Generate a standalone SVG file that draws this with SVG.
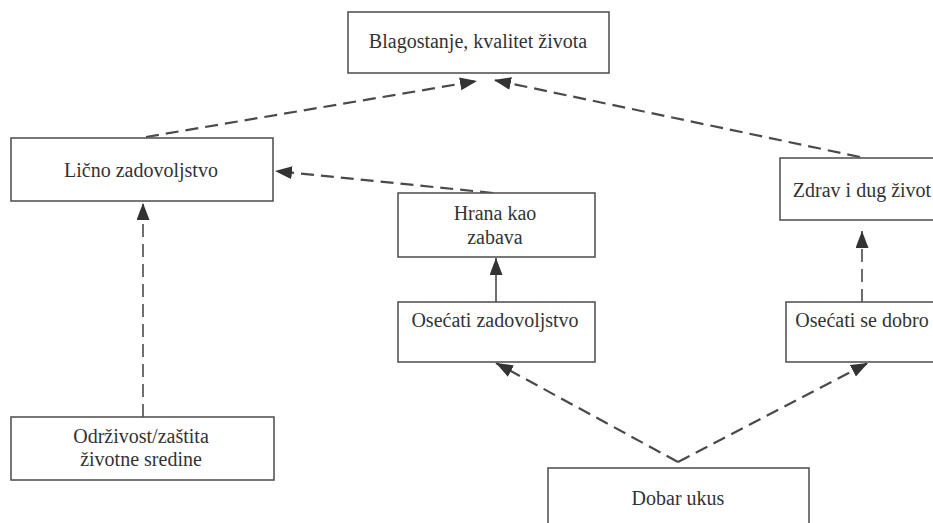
<svg xmlns="http://www.w3.org/2000/svg" width="933" height="523" viewBox="0 0 933 523">
<defs>
<style>
.box{fill:#fff;stroke:#555;stroke-width:1.6}
text{font-family:'Liberation Serif','Times New Roman',Times,serif;font-size:20px;fill:#333;text-anchor:middle}
.dash{fill:none;stroke:#4a4a4a;stroke-width:2.2;stroke-dasharray:13 7}
.vdash{fill:none;stroke:#4a4a4a;stroke-width:1.6;stroke-dasharray:13 7}
.solid{fill:none;stroke:#4a4a4a;stroke-width:1.6}
</style>
<marker id="ah" markerUnits="userSpaceOnUse" markerWidth="18" markerHeight="14" refX="17" refY="6.5" orient="auto">
<path d="M0,0 L17,6.5 L0,13 Z" fill="#333"/>
</marker>
</defs>
<rect width="933" height="523" fill="#fff"/>
<g id="connectors">
<line class="dash" x1="146" y1="137" x2="477" y2="81" marker-end="url(#ah)"/>
<line class="dash" x1="860" y1="157" x2="494" y2="80" marker-end="url(#ah)"/>
<line class="dash" x1="493" y1="193" x2="275" y2="171" marker-end="url(#ah)"/>
<line class="vdash" x1="143" y1="417" x2="143" y2="203" marker-end="url(#ah)"/>
<line class="solid" x1="496" y1="302" x2="496" y2="258" marker-end="url(#ah)"/>
<line class="vdash" x1="862" y1="302" x2="862" y2="231" marker-end="url(#ah)"/>
<line class="dash" x1="678" y1="462" x2="496" y2="363" marker-end="url(#ah)"/>
<line class="dash" x1="678" y1="462" x2="868" y2="363" marker-end="url(#ah)"/>
</g>
<g id="n-blagostanje">
<rect class="box" x="348" y="12" width="261" height="61"/>
<text x="478" y="48" font-family="Liberation Serif, serif">Blagostanje, kvalitet života</text>
</g>
<g id="n-licno">
<rect class="box" x="11" y="138" width="262" height="63"/>
<text x="141" y="177" font-family="Liberation Serif, serif">Lično zadovoljstvo</text>
</g>
<g id="n-hrana">
<rect class="box" x="398" y="193" width="197" height="64"/>
<text x="495" y="220" font-family="Liberation Serif, serif">Hrana kao</text>
<text x="495" y="244" font-family="Liberation Serif, serif">zabava</text>
</g>
<g id="n-zdrav">
<rect class="box" x="780" y="158" width="165" height="62"/>
<text x="862" y="197" font-family="Liberation Serif, serif">Zdrav i dug život</text>
</g>
<g id="n-osecati-zad">
<rect class="box" x="398" y="302" width="197" height="60"/>
<text x="495" y="327" font-family="Liberation Serif, serif">Osećati zadovoljstvo</text>
</g>
<g id="n-osecati-dobro">
<rect class="box" x="786" y="302" width="160" height="60"/>
<text x="862" y="327" font-family="Liberation Serif, serif">Osećati se dobro</text>
</g>
<g id="n-odrzivost">
<rect class="box" x="11" y="417" width="263" height="63"/>
<text x="141" y="443" font-family="Liberation Serif, serif">Održivost/zaštita</text>
<text x="141" y="466" font-family="Liberation Serif, serif">životne sredine</text>
</g>
<g id="n-dobar">
<rect class="box" x="548" y="468" width="261" height="70"/>
<text x="678" y="505" font-family="Liberation Serif, serif">Dobar ukus</text>
</g>
</svg>
